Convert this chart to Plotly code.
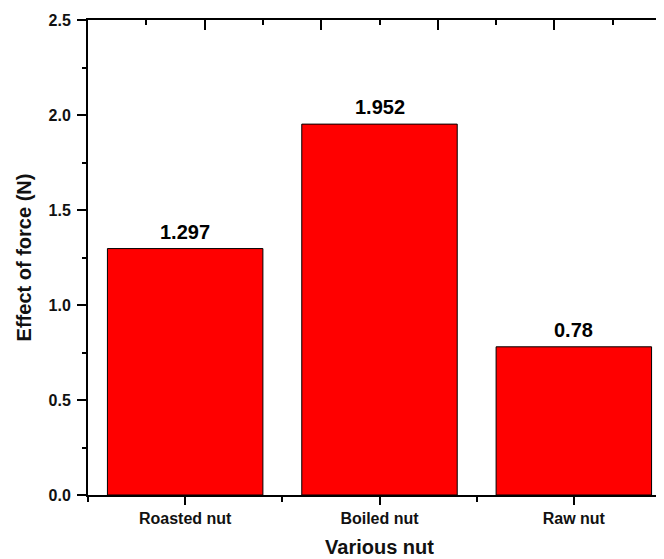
import plotly.graph_objects as go

categories = ["Roasted nut", "Boiled nut", "Raw nut"]
values = [1.297, 1.952, 0.78]
value_labels = ["1.297", "1.952", "0.78"]
x_title = "Various nut"
y_title = "Effect of force (N)"

FONT = "Liberation Sans, Arial, sans-serif"
xpos = list(range(len(categories)))

fig = go.Figure()
fig.add_trace(go.Bar(
    x=xpos, y=values, width=0.8,
    marker=dict(color="#FF0000", line=dict(color="#000000", width=1)),
    showlegend=False,
))
# empty trace to bind the top/right frame axes
fig.add_trace(go.Scatter(x=[], y=[], xaxis="x2", yaxis="y2", showlegend=False))

for xv, yv, lab in zip(xpos, values, value_labels):
    fig.add_annotation(
        x=xv, y=yv, xref="x", yref="y", text=lab, showarrow=False,
        yanchor="bottom", yshift=4,
        font=dict(family=FONT, size=20, color="#000000", weight="bold"),
    )

fig.update_layout(
    width=664, height=559,
    margin=dict(l=80, r=1, t=12, b=72),
    plot_bgcolor="white", paper_bgcolor="white",
    font=dict(family=FONT, color="#111111"),
    bargap=0.2,
    xaxis=dict(
        range=[-0.5, 2.5],
        tickmode="array", tickvals=xpos, ticktext=categories,
        ticks="outside", ticklen=8, tickwidth=2, tickcolor="black",
        minor=dict(tickmode="linear", tick0=0.5, dtick=1, ticks="outside",
                   ticklen=5, tickwidth=2, tickcolor="black"),
        showline=True, linewidth=2, linecolor="black",
        showgrid=False, zeroline=False,
        tickfont=dict(family=FONT, size=16, color="#111111", weight="bold"),
        title=dict(text=x_title, standoff=14,
                   font=dict(family=FONT, size=20, color="#111111", weight="bold")),
    ),
    yaxis=dict(
        range=[0, 2.5],
        tickmode="linear", tick0=0, dtick=0.5, tickformat=".1f",
        ticks="outside", ticklen=9, tickwidth=2, tickcolor="black",
        minor=dict(tickmode="linear", tick0=0, dtick=0.25, ticks="outside",
                   ticklen=4, tickwidth=2, tickcolor="black"),
        showline=True, linewidth=2, linecolor="black",
        showgrid=False, zeroline=False, ticklabelstandoff=3,
        tickfont=dict(family=FONT, size=16, color="#111111", weight="bold"),
        title=dict(text=y_title, standoff=12,
                   font=dict(family=FONT, size=20, color="#111111", weight="bold")),
    ),
    xaxis2=dict(
        overlaying="x", side="top", anchor="y",
        range=[0, 5],
        tickmode="linear", tick0=0, dtick=1,
        ticks="inside", ticklen=10, tickwidth=2, tickcolor="black",
        minor=dict(tickmode="linear", tick0=0, dtick=0.5, ticks="inside",
                   ticklen=5, tickwidth=2, tickcolor="black"),
        showticklabels=False, showline=True, linewidth=2, linecolor="black",
        showgrid=False, zeroline=False,
    ),
    yaxis2=dict(
        overlaying="y", side="right", anchor="x",
        range=[0, 2.5],
        tickmode="linear", tick0=0, dtick=0.5,
        ticks="inside", ticklen=10, tickwidth=2, tickcolor="black",
        minor=dict(tickmode="linear", tick0=0, dtick=0.25, ticks="inside",
                   ticklen=5, tickwidth=2, tickcolor="black"),
        showticklabels=False, showline=True, linewidth=2, linecolor="black",
        showgrid=False, zeroline=False,
    ),
)

fig.write_html("out.html")
